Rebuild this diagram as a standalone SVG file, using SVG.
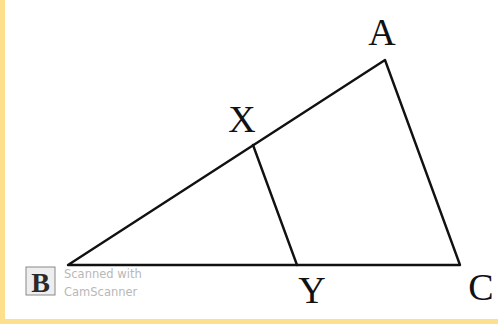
<svg xmlns="http://www.w3.org/2000/svg" width="498" height="324" viewBox="0 0 498 324">
<style>
.lbl{font-family:"Liberation Serif","Times New Roman",serif;font-size:38px;fill:#111}
.edge{stroke:#111;stroke-width:2.4;fill:none;stroke-linecap:round;stroke-linejoin:round}
.wm{font-family:"DejaVu Sans","Liberation Sans",sans-serif;font-size:11.5px;fill:#b8b8b8}
</style>
<rect x="0" y="0" width="498" height="324" fill="#fde08e"/>
<rect x="5" y="0" width="493" height="319" fill="#ffffff"/>
<g id="connectors">
<path class="edge" d="M68 265 L385 60 L460 265 Z"/>
<path class="edge" d="M253 145 L297 265"/>
</g>
<g id="node-A"><text class="lbl" x="382" y="45" text-anchor="middle">A</text></g>
<g id="node-X"><text class="lbl" x="242" y="132" text-anchor="middle">X</text></g>
<g id="node-Y"><text class="lbl" x="312" y="303" text-anchor="middle">Y</text></g>
<g id="node-C"><text class="lbl" x="481" y="300" text-anchor="middle">C</text></g>
<g id="watermark">
<rect x="26" y="267" width="29" height="28" fill="#eeeeee" stroke="#888" stroke-width="1"/>
<text x="40.5" y="292" text-anchor="middle" font-family="Liberation Serif,serif" font-weight="bold" font-size="28" fill="#2a2a2a">B</text>
<text class="wm" x="64" y="278">Scanned with</text>
<text class="wm" x="64" y="296">CamScanner</text>
</g>
</svg>
